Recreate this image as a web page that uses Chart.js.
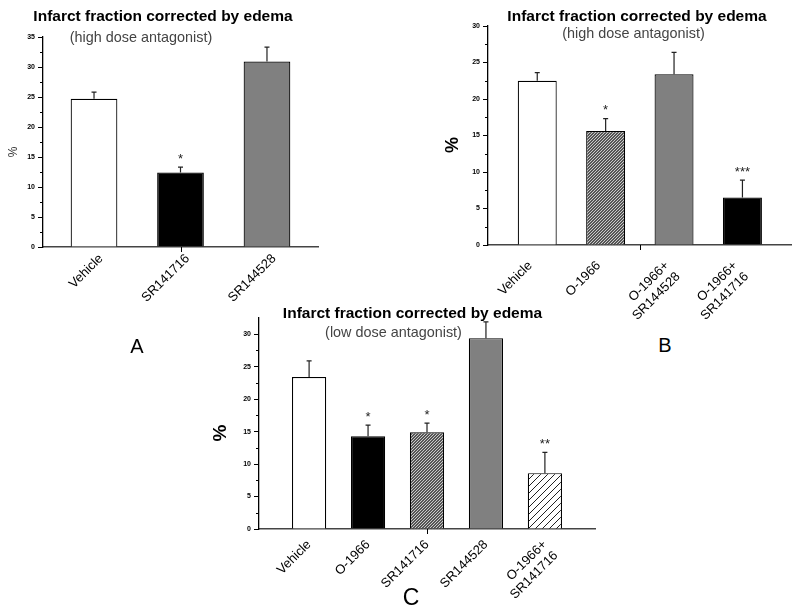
<!DOCTYPE html>
<html>
<head>
<meta charset="utf-8">
<script src="https://cdn.jsdelivr.net/npm/chart.js@4.4.1/dist/chart.umd.min.js"></script>
<style>
  body{margin:0;background:#fff;}
  #wrap{position:relative;width:800px;height:611px;overflow:hidden;font-family:"Liberation Sans",Arial,sans-serif;}
  canvas{position:absolute;}
  .t{position:absolute;white-space:nowrap;transform:translate(-50%,-50%);line-height:1;}
</style>
</head>
<body>
<div id="wrap">
  <canvas id="gA" width="330" height="330" style="left:0;top:0"></canvas>
  <canvas id="gB" width="360" height="330" style="left:440px;top:0"></canvas>
  <canvas id="gC" width="410" height="321" style="left:200px;top:290px"></canvas>
</div>
<script>
// panel A - high dose antagonist
const catsA = ['Vehicle', 'SR141716', 'SR144528'];
const meanA = [24.7, 12.4, 30.9];
const semA = [1.1, 0.9, 2.4];
const starsA = ['', '*', ''];

// panel B - high dose antagonist
const catsB = ['Vehicle', 'O-1966', ['O-1966+', 'SR144528'], ['O-1966+', 'SR141716']];
const meanB = [22.5, 15.6, 23.4, 6.5];
const semB = [1.1, 1.7, 3.0, 2.4];
const starsB = ['', '*', '', '***'];

// panel C - low dose antagonist
const catsC = ['Vehicle', 'O-1966', 'SR141716', 'SR144528', ['O-1966+', 'SR141716']];
const meanC = [23.4, 14.3, 14.9, 29.4, 8.6];
const semC = [2.5, 1.7, 1.4, 2.5, 3.2];
const starsC = ['', '*', '*', '', '**'];

const FONT = '"Liberation Sans", Arial, sans-serif';

function hatch(bg, fg, size, lw){
    let c = document.createElement('canvas');
    c.width = size; c.height = size;
    let x = c.getContext('2d');
    x.fillStyle = bg;
    x.fillRect(0, 0, size, size);
    x.strokeStyle = fg;
    x.lineWidth = lw;
    x.beginPath();
    x.moveTo(0, size); x.lineTo(size, 0);
    x.moveTo(-1, 1); x.lineTo(1, -1);
    x.moveTo(size - 1, size + 1); x.lineTo(size + 1, size - 1);
    x.stroke();
    return x.createPattern(c, 'repeat');
}
const dense = hatch('#555555', '#d8d8d8', 3, 0.9);
const sparse = hatch('#ffffff', '#222222', 7, 1);

const fillA = ['#ffffff', '#000000', '#808080'];
const fillB = ['#ffffff', dense, '#808080', '#000000'];
const fillC = ['#ffffff', '#000000', dense, '#808080', sparse];

function grafico(id, cats, means, sems, stars, fills, cfg){
    let extras = {
        id: 'extras',
        afterDatasetsDraw(chart){
            let c = chart.ctx, ys = chart.scales.y, meta = chart.getDatasetMeta(0);
            c.save();
            c.strokeStyle = '#222';
            c.lineWidth = 1.2;
            meta.data.forEach((bar, i) => {
                let top = ys.getPixelForValue(means[i] + sems[i]);
                c.beginPath();
                c.moveTo(bar.x, bar.y);
                c.lineTo(bar.x, top);
                c.moveTo(bar.x - 2.5, top);
                c.lineTo(bar.x + 2.5, top);
                c.stroke();
                if(stars[i]){
                    c.fillStyle = '#222';
                    c.font = '13px ' + FONT;
                    c.textAlign = 'center';
                    c.textBaseline = 'alphabetic';
                    c.fillText(stars[i], bar.x, top - 4.5);
                }
            });
            c.restore();
        },
        afterDraw(chart){
            let c = chart.ctx, a = chart.chartArea, ys = chart.scales.y;
            c.save();
            c.strokeStyle = '#000';
            c.lineWidth = 1;
            c.beginPath();
            for(let v = 2.5; v < cfg.max; v += 5){
                let y = Math.round(ys.getPixelForValue(v)) + 0.5;
                c.moveTo(a.left - 3, y);
                c.lineTo(a.left, y);
            }
            let mx = Math.round((a.left + a.right) / 2) + 0.5;
            c.moveTo(mx, a.bottom);
            c.lineTo(mx, a.bottom + 5);
            c.stroke();
            c.restore();
        }
    };
    return new Chart(document.getElementById(id), {
        type: 'bar',
        data: {
            datasets: [{
                data: means.map((v, i) => ({x: i, y: v})),
                backgroundColor: fills,
                borderColor: '#000',
                borderWidth: 1.2,
                categoryPercentage: 1,
                barPercentage: cfg.bar
            }]
        },
        options: {
            responsive: false,
            animation: false,
            layout: {padding: cfg.pad},
            plugins: {legend: {display: false}, tooltip: {enabled: false}},
            scales: {
                x: {
                    type: 'linear',
                    offset: false,
                    min: cfg.xmin,
                    max: cfg.xmax,
                    afterBuildTicks: s => { s.ticks = cats.map((c, i) => ({value: i})); },
                    afterFit: s => { s.height = cfg.xh; },
                    grid: {display: false},
                    border: {color: '#444', width: 1.5},
                    ticks: {
                        autoSkip: false,
                        minRotation: 45,
                        maxRotation: 45,
                        padding: cfg.lpad,
                        labelOffset: cfg.loff,
                        color: '#000',
                        font: {family: FONT, size: 13},
                        callback: v => cats[v]
                    }
                },
                y: {
                    min: 0,
                    max: cfg.max,
                    afterFit: s => { s.width = cfg.yw; },
                    grid: {drawOnChartArea: false, tickLength: 5, color: '#000'},
                    border: {color: '#000', width: 1.3},
                    ticks: {
                        stepSize: 5,
                        includeBounds: false,
                        padding: 3,
                        color: '#000',
                        font: {family: FONT, size: 7, weight: 'bold'}
                    }
                }
            }
        },
        plugins: [extras]
    });
}

grafico('gA', catsA, meanA, semA, starsA, fillA,
    {max: 35, xmin: -0.59, xmax: 2.59, bar: 0.54, yw: 43, xh: 83, lpad: -4, loff: 7,
     pad: {left: 0, top: 37, right: 12, bottom: 0}});
grafico('gB', catsB, meanB, semB, starsB, fillB,
    {max: 30, xmin: -0.72, xmax: 3.71, bar: 0.57, yw: 48, xh: 85, lpad: 5, loff: -7,
     pad: {left: 0, top: 26, right: 9, bottom: 0}});
grafico('gC', catsC, meanC, semC, starsC, fillC,
    {max: 32.5, xmin: -0.85, xmax: 4.85, bar: 0.58, yw: 59, xh: 82, lpad: 0, loff: 0,
     pad: {left: 0, top: 28, right: 15, bottom: 0}});

// textos
function texto(t, x, y, css, rot){
    let d = document.createElement('div');
    d.className = 't';
    d.textContent = t;
    d.style.left = x + 'px';
    d.style.top = y + 'px';
    d.style.cssText += css;
    if(rot) d.style.transform = 'translate(-50%,-50%) rotate(-90deg)';
    document.getElementById('wrap').appendChild(d);
}
const tituloCss = 'font-size:15.5px;font-weight:bold;color:#000;';
const subCss = 'font-size:14.4px;color:#444;';
texto('Infarct fraction corrected by edema', 163, 16, tituloCss);
texto('(high dose antagonist)', 141, 37, subCss);
texto('Infarct fraction corrected by edema', 637, 16, tituloCss);
texto('(high dose antagonist)', 633.5, 33, subCss);
texto('Infarct fraction corrected by edema', 412.5, 313, tituloCss);
texto('(low dose antagonist)', 393.5, 332, subCss);
texto('%', 12.5, 152, 'font-size:12px;color:#333;', true);
texto('%', 451.5, 145, 'font-size:18px;font-weight:bold;color:#000;', true);
texto('%', 218.5, 433, 'font-size:19px;font-weight:bold;color:#000;', true);
texto('A', 137, 346, 'font-size:20px;color:#000;');
texto('B', 665, 345, 'font-size:20px;color:#000;');
texto('C', 411, 597, 'font-size:23px;color:#000;');
</script>
</body>
</html>
